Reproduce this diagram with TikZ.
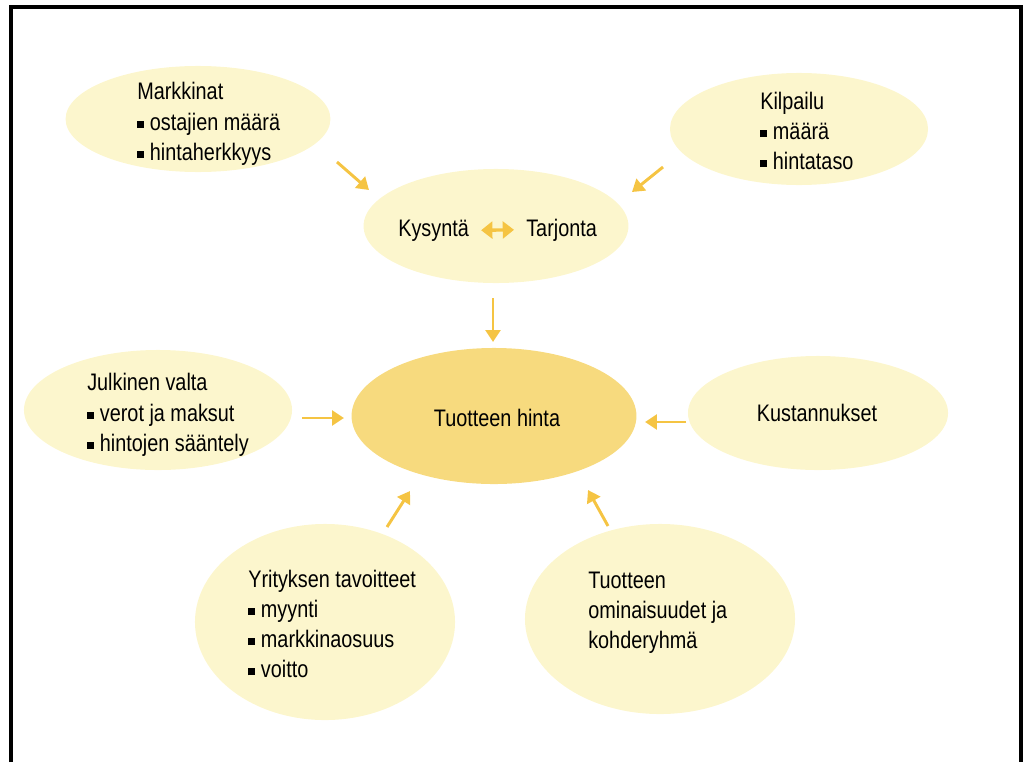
\documentclass[tikz,border=0pt]{standalone}
\usepackage{fontspec}
\setmainfont{Liberation Sans}[FakeStretch=0.83]
\usetikzlibrary{arrows.meta, shapes.geometric}

\definecolor{paleyellow}{HTML}{FCF6CD}
\definecolor{midyellow}{HTML}{F7DA7E}
\definecolor{arrowyellow}{HTML}{F5C443}
\newcommand{\bul}{\rule[1.8pt]{5pt}{5pt}\hspace{4pt}}

\begin{document}
\begin{tikzpicture}[x=0.025cm, y=-0.025cm,
  bubble/.style = {ellipse, fill=paleyellow, inner sep=0pt},
  hub/.style    = {ellipse, fill=midyellow, inner sep=0pt},
  txt/.style    = {font=\fontsize{17}{21.5}\selectfont, align=left, inner sep=0pt},
  arr/.style    = {-{Triangle[length=8.5pt, width=10.5pt]}, line width=2.1pt, draw=arrowyellow},
  dbl/.style    = {{Triangle[length=8pt, width=12pt]}-{Triangle[length=8pt, width=12pt]}, line width=2.4pt, draw=arrowyellow},
  frame/.style  = {line width=0.1cm, line join=miter}]
  \useasboundingbox (0,0) rectangle (1029,762);
  \draw[frame] (11,762) -- (11,7) -- (1021,7) -- (1021,762);

  % ellipses
  \node[bubble, minimum width=6.62cm, minimum height=2.65cm] (mark) at (198,119) {};
  \node[bubble, minimum width=6.45cm, minimum height=2.8cm]  (kilp) at (799,129) {};
  \node[bubble, minimum width=6.62cm, minimum height=2.85cm] (kys)  at (496,226) {};
  \node[hub,    minimum width=7.12cm, minimum height=3.4cm]  (hinta) at (494,416) {};
  \node[bubble, minimum width=6.7cm,  minimum height=3.0cm]  (julk) at (158,410) {};
  \node[bubble, minimum width=6.5cm,  minimum height=2.85cm] (kust) at (818,413) {};
  \node[bubble, minimum width=6.5cm,  minimum height=4.9cm]  (yrit) at (325,622) {};
  \node[bubble, minimum width=6.75cm, minimum height=4.75cm] (omin) at (660,619) {};

  % texts
  \node[txt, anchor=west] (markT) at (137,124) {Markkinat\\\bul ostajien määrä\\\bul hintaherkkyys};
  \node[txt, anchor=west] (kilpT) at (760,131) {Kilpailu\\\bul määrä\\\bul hintataso};
  \node[txt, anchor=base west] (kysT) at (398,236) {Kysyntä};
  \node[txt, anchor=base west] (tarT) at (526,236) {Tarjonta};
  \node[txt] (hintaT) at (497,418) {Tuotteen hinta};
  \node[txt, anchor=west] (julkT) at (87,415) {Julkinen valta\\\bul verot ja maksut\\\bul hintojen sääntely};
  \node[txt] (kustT) at (817,413) {Kustannukset};
  \node[txt, anchor=west] (yritT) at (248,624) {Yrityksen tavoitteet\\\bul myynti\\\bul markkinaosuus\\\bul voitto};
  \node[txt, anchor=west] (ominT) at (588,613) {Tuotteen\\ominaisuudet ja\\kohderyhmä};

  % arrow ends
  \coordinate (markA) at (337,162);  \coordinate (kysA)  at (369,190);
  \coordinate (kilpA) at (663,167);  \coordinate (kysB)  at (632,192);
  \coordinate (kysC)  at (493,298);  \coordinate (hintaA) at (493,342);
  \coordinate (julkA) at (302,418);  \coordinate (hintaB) at (344,418);
  \coordinate (kustA) at (686,422);  \coordinate (hintaC) at (645,422);
  \coordinate (yritA) at (387,527);  \coordinate (hintaD) at (410,491);
  \coordinate (ominA) at (608,526);  \coordinate (hintaE) at (588,490);

  \draw[arr] (markA) -- (kysA);
  \draw[arr] (kilpA) -- (kysB);
  \draw[arr] (kysC)  -- (hintaA);
  \draw[arr] (julkA) -- (hintaB);
  \draw[arr] (kustA) -- (hintaC);
  \draw[arr] (yritA) -- (hintaD);
  \draw[arr] (ominA) -- (hintaE);
  \draw[dbl] ([xshift=0.3cm]kysT.east) -- ([xshift=-0.3cm]tarT.west);
\end{tikzpicture}
\end{document}
